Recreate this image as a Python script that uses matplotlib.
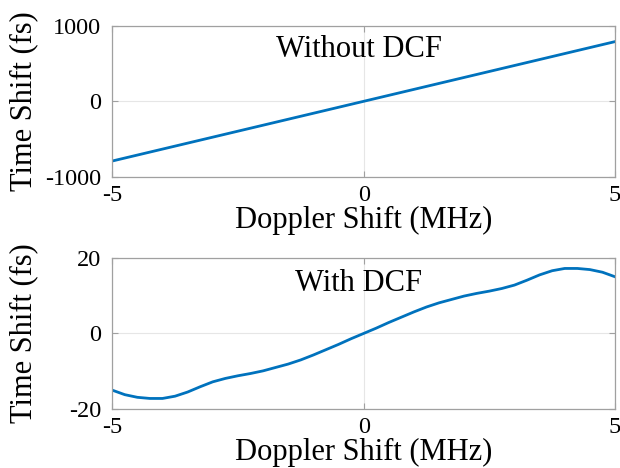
import numpy as np
import matplotlib.pyplot as plt

plt.rcParams['font.family'] = ['Liberation Serif', 'DejaVu Serif']
plt.rcParams['axes.unicode_minus'] = False

# Doppler shift (MHz)
doppler_top = [-5, 5]
shift_top = [-790, 790]

doppler = [-5, -4.75, -4.5, -4.25, -4, -3.75, -3.5, -3.25, -3, -2.75, -2.5,
           -2.25, -2, -1.75, -1.5, -1.25, -1, -0.75, -0.5, -0.25, 0,
           0.25, 0.5, 0.75, 1, 1.25, 1.5, 1.75, 2, 2.25, 2.5,
           2.75, 3, 3.25, 3.5, 3.75, 4, 4.25, 4.5, 4.75, 5]
shift_dcf = [-15.0, -16.2, -16.9, -17.2, -17.2, -16.6, -15.5, -14.1, -12.8, -11.9, -11.2,
             -10.6, -9.9, -9.0, -8.1, -7.0, -5.7, -4.3, -2.9, -1.4, 0.0,
             1.4, 2.9, 4.3, 5.7, 7.0, 8.1, 9.0, 9.9, 10.6, 11.2,
             11.9, 12.8, 14.1, 15.5, 16.6, 17.2, 17.2, 16.9, 16.2, 15.0]

blue = '#0072BD'
edge = '#A0A0A0'

fig = plt.figure(figsize=(6.2, 4.68), dpi=100)
ax1 = fig.add_axes([0.181, 0.622, 0.811, 0.323])
ax2 = fig.add_axes([0.181, 0.126, 0.811, 0.323])


def style(ax, yticks):
    ax.set_xlim(-5, 5)
    ax.set_xticks([-5, 0, 5])
    ax.set_yticks(yticks)
    ax.set_ylim(yticks[0], yticks[-1])
    ax.grid(True, color='#E6E6E6', lw=0.8)
    ax.set_axisbelow(True)
    for s in ax.spines.values():
        s.set_color(edge)
        s.set_linewidth(0.9)
    ax.tick_params(direction='in', top=True, right=True, length=4, width=0.8,
                   color=edge, labelsize=17.5)
    ax.tick_params(axis='x', pad=6)
    ax.tick_params(axis='y', pad=8)
    ax.set_xlabel('Doppler Shift (MHz)', fontsize=22)
    ax.set_ylabel('Time Shift (fs)', fontsize=22)
    ax.xaxis.set_label_coords(0.5, -0.19)
    ax.yaxis.set_label_coords(-0.147, 0.5)


ax1.plot(doppler_top, shift_top, color=blue, lw=2)
style(ax1, [-1000, 0, 1000])
ax1.text(-0.1, 680, 'Without DCF', fontsize=22, ha='center', va='center')

ax2.plot(doppler, shift_dcf, color=blue, lw=2)
style(ax2, [-20, 0, 20])
ax2.text(-0.1, 13.3, 'With DCF', fontsize=22, ha='center', va='center')

fig.savefig('out.png', dpi=100)
